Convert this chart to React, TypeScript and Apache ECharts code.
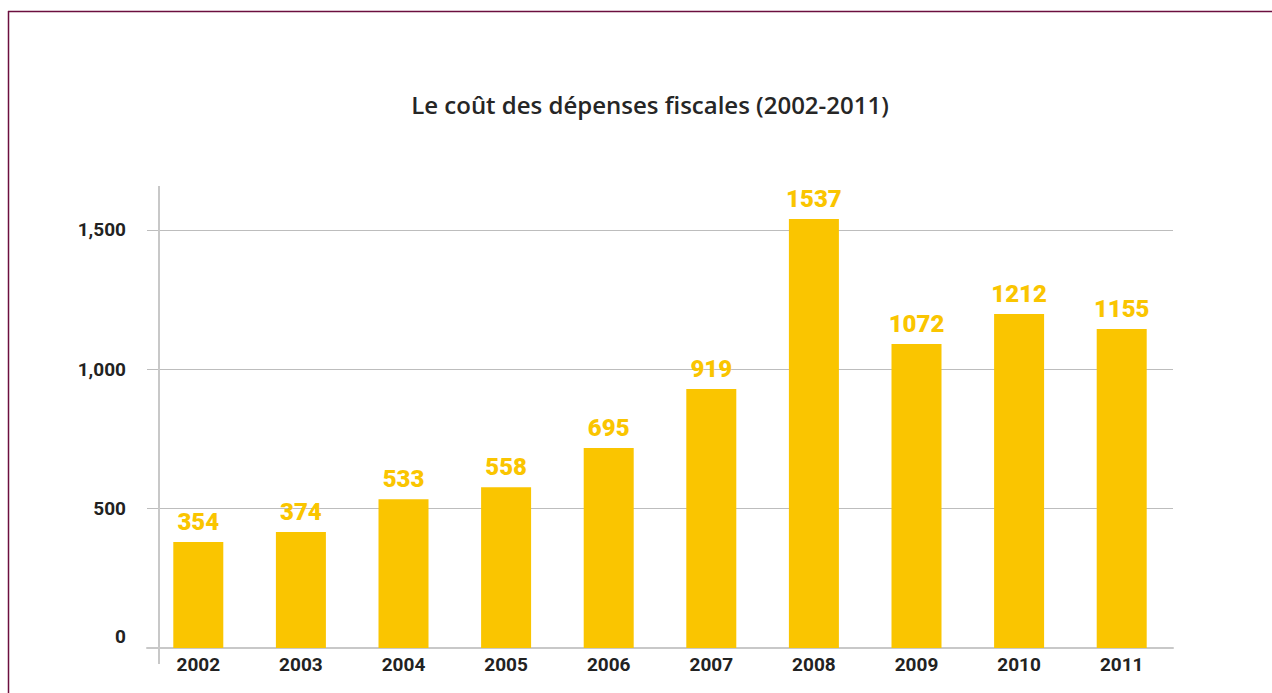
import React, { useEffect, useRef } from "react";
import * as echarts from "echarts";

const years = ["2002", "2003", "2004", "2005", "2006", "2007", "2008", "2009", "2010", "2011"];
// bar heights as drawn in the picture
const barValues = [380, 416, 534, 577, 717, 929, 1539, 1090, 1198, 1144];
// value labels as printed above the bars
const valueLabels = ["354", "374", "533", "558", "695", "919", "1537", "1072", "1212", "1155"];
const yTicks = [0, 500, 1000, 1500];

const title = "Le coût des dépenses fiscales (2002-2011)";
const YELLOW = "#fac500";

export default function App() {
  const ref = useRef<HTMLDivElement>(null);
  useEffect(() => {
    if (!ref.current) return;
    const chart = echarts.init(ref.current, null, { renderer: "svg" });
    chart.setOption({
      animation: false,
      backgroundColor: "#ffffff",
      title: {
        text: title,
        left: 645,
        top: 87,
        textAlign: "center",
        textStyle: {
          fontFamily: "Open Sans",
          fontWeight: 600,
          fontSize: 24,
          color: "#262626",
        },
      },
      grid: { left: 147, right: 99, top: 188, bottom: 45, containLabel: false },
      xAxis: {
        type: "category",
        data: years,
        axisLine: { show: true, lineStyle: { color: "#c8c8c8", width: 2 } },
        axisTick: { show: false },
        axisLabel: {
          margin: 7,
          fontFamily: "Roboto",
          fontWeight: "bold",
          fontSize: 19,
          color: "#222222",
        },
      },
      yAxis: {
        type: "value",
        min: 0,
        max: 1650,
        interval: 500,
        axisLine: { show: false },
        axisTick: { show: false },
        splitLine: {
          show: true,
          showMaxLine: false,
          lineStyle: { color: "#bdbdbd", width: 1.2 },
        },
        axisLabel: {
          showMaxLabel: false,
          margin: 21,
          fontFamily: "Roboto",
          fontWeight: "bold",
          fontSize: 19,
          color: "#222222",
          formatter: (v: number) => {
            if (!yTicks.includes(v)) return "";
            const s = v.toLocaleString("en-US");
            return v === 0 ? "{z|" + s + "}" : s;
          },
          rich: {
            z: {
              fontFamily: "Roboto",
              fontWeight: "bold",
              fontSize: 19,
              color: "#222222",
              padding: [0, 0, 24, 0],
            },
          },
        },
      },
      series: [
        {
          type: "bar",
          data: barValues,
          barWidth: 50,
          itemStyle: { color: YELLOW },
          label: {
            show: true,
            position: "top",
            distance: 8,
            fontFamily: "Roboto",
            fontWeight: 900,
            fontSize: 24,
            color: YELLOW,
            formatter: (p: any) => valueLabels[p.dataIndex],
          },
        },
      ],
      graphic: [
        {
          type: "line",
          shape: { x1: 159, y1: 186, x2: 159, y2: 664 },
          style: { stroke: "#c8c8c8", lineWidth: 2 },
          z: 1,
        },
        {
          type: "line",
          shape: { x1: 8, y1: 11.5, x2: 1272, y2: 11.5 },
          style: { stroke: "#6b0f3f", lineWidth: 1.5 },
        },
        {
          type: "line",
          shape: { x1: 8.5, y1: 11, x2: 8.5, y2: 693 },
          style: { stroke: "#6b0f3f", lineWidth: 1.5 },
        },
      ],
    });
    return () => chart.dispose();
  }, []);
  return (
    <div
      ref={ref}
      style={{ position: "absolute", left: 0, top: 0, width: 1272, height: 693 }}
    />
  );
}
